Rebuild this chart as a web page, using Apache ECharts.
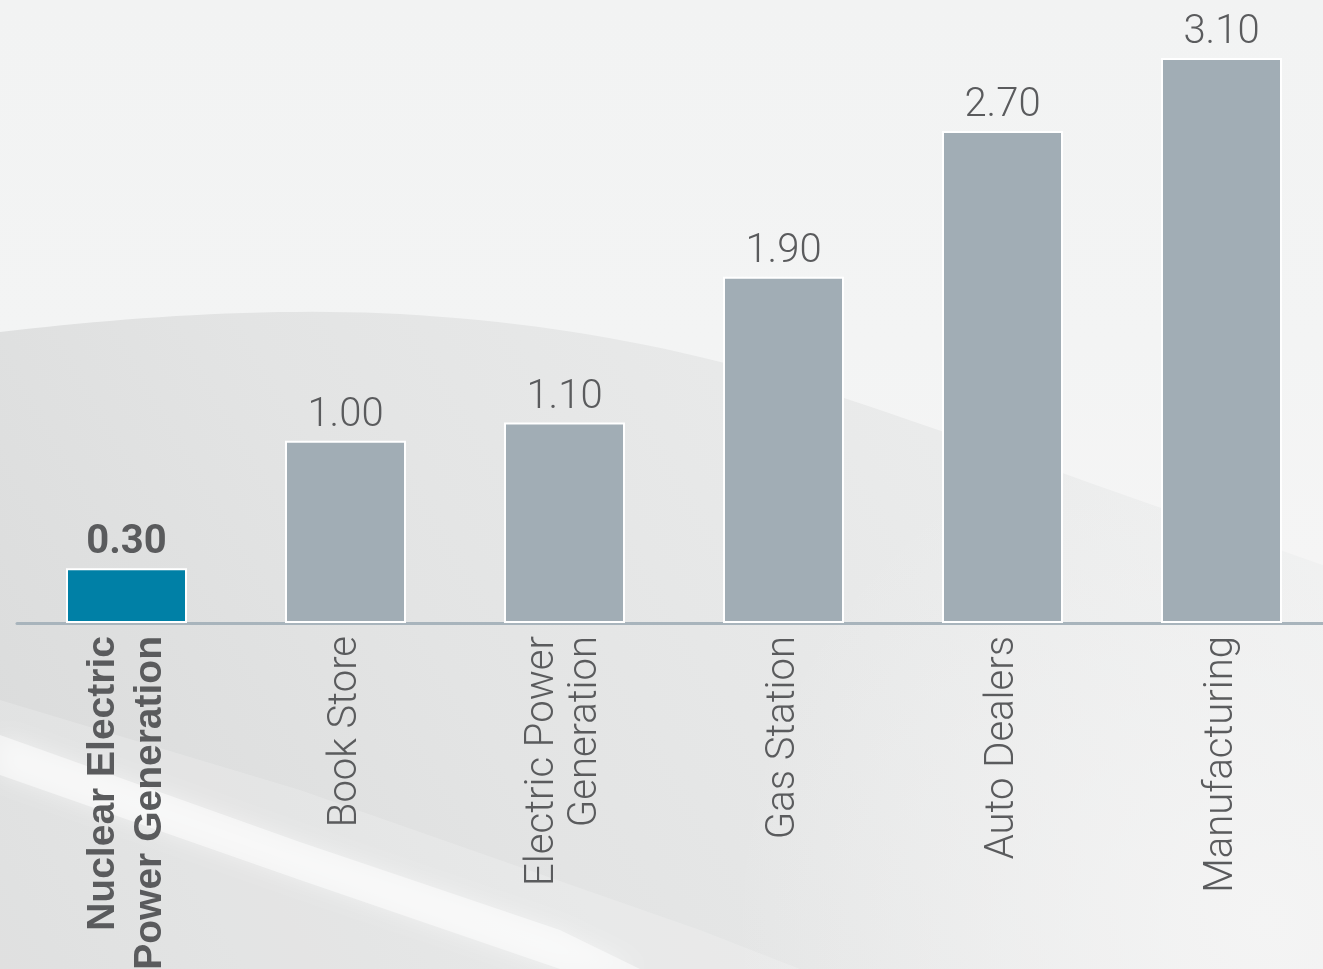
<!DOCTYPE html>
<html>
<head>
<meta charset="utf-8">
<title>Industry comparison</title>
<script src="https://cdn.jsdelivr.net/npm/echarts@6/dist/echarts.min.js"></script>
<style>
  html, body { margin: 0; padding: 0; background: #eceded; overflow: hidden; width: 1323px; height: 969px; }
  #frame { position: relative; width: 1323px; height: 969px; overflow: hidden; }
  #chart { position: absolute; left: 0; top: 0; width: 1331px; height: 969px; }
</style>
</head>
<body>
<div id="frame"><div id="chart"></div></div>
<script>
// Categories, left to right
const categories = [
  'Nuclear Electric\nPower Generation',
  'Book Store',
  'Electric Power\nGeneration',
  'Gas Station',
  'Auto Dealers',
  'Manufacturing'
];
// Value for each category
const values = [0.30, 1.00, 1.10, 1.90, 2.70, 3.10];
// Index of the highlighted category
const highlightIndex = 0;

const GREY_BAR = '#a1adb5';
const TEAL_BAR = '#0080a6';
const TEXT = '#5a5b5d';
const FONT = 'Roboto, "Liberation Sans", sans-serif';

const chart = echarts.init(document.getElementById('chart'), null, { renderer: 'canvas' });

const axisData = categories.map((c, i) => i === highlightIndex
  ? { value: c, textStyle: { fontWeight: 'bold', fontFamily: '"Liberation Sans", Arial, sans-serif', fontSize: 39, lineHeight: 47 } }
  : c);

const seriesData = values.map((v, i) => ({
  value: v,
  itemStyle: { color: i === highlightIndex ? TEAL_BAR : GREY_BAR },
  label: i === highlightIndex ? { fontWeight: 'bold' } : {}
}));

// Sample a chain of cubic curves into polygon points
function curvePoints(start, segments, steps) {
  const pts = [start];
  let p0 = start;
  segments.forEach(([c1, c2, p3]) => {
    for (let k = 1; k <= steps; k++) {
      const t = k / steps, u = 1 - t;
      pts.push([
        u * u * u * p0[0] + 3 * u * u * t * c1[0] + 3 * u * t * t * c2[0] + t * t * t * p3[0],
        u * u * u * p0[1] + 3 * u * u * t * c1[1] + 3 * u * t * t * c2[1] + t * t * t * p3[1]
      ]);
    }
    p0 = p3;
  });
  return pts;
}

// Soft backdrop: light upper sweep, grey middle, pale streak at the bottom
const W = 1331, H = 969;
const upperEdge = curvePoints([0, 332], [
  [[120, 318], [260, 307], [400, 314]],
  [[560, 323], [700, 350], [850, 400]],
  [[1000, 450], [1180, 515], [1331, 568]]
], 24);
const upperSweep = [[0, 0], ...upperEdge, [W, 0]];

const backdrop = [
  {
    type: 'rect', z: -30, silent: true,
    shape: { x: 0, y: 0, width: W, height: H },
    style: {
      fill: new echarts.graphic.LinearGradient(0, 1, 1, 0.2, [
        { offset: 0, color: '#d9dada' },
        { offset: 0.35, color: '#e3e4e4' },
        { offset: 0.7, color: '#eaebeb' },
        { offset: 1, color: '#f1f2f2' }
      ])
    }
  },
  {
    type: 'rect', z: -29, silent: true,
    shape: { x: 0, y: 0, width: W, height: H },
    style: {
      fill: new echarts.graphic.RadialGradient(0.95, 0.95, 0.55, [
        { offset: 0, color: 'rgba(245,245,245,0.9)' },
        { offset: 1, color: 'rgba(245,245,245,0)' }
      ])
    }
  },
  {
    type: 'polygon', z: -28, silent: true,
    shape: { points: upperSweep },
    style: {
      fill: new echarts.graphic.LinearGradient(0, 0, 0, 1, [
        { offset: 0, color: '#f2f3f3' },
        { offset: 0.6, color: '#f3f4f4' },
        { offset: 1, color: '#f5f5f5' }
      ])
    }
  },
  {
    type: 'polygon', z: -27, silent: true,
    shape: { points: [[0, 700], [300, 790], [700, 930], [800, 969], [0, 969]] },
    style: {
      fill: 'rgba(255,255,255,0.18)'
    }
  },
  {
    type: 'polygon', z: -26, silent: true,
    shape: { points: [[0, 735], [300, 842], [560, 930], [640, 969], [560, 969], [300, 880], [0, 775]] },
    style: {
      fill: 'rgba(255,255,255,0.5)',
      shadowBlur: 22, shadowColor: 'rgba(255,255,255,0.95)'
    }
  }
];

chart.setOption({
  backgroundColor: 'transparent',
  animation: false,
  graphic: { elements: backdrop },
  grid: { left: 17, right: 0, top: 58, height: 565, containLabel: false, outerBoundsMode: 'none' },
  xAxis: {
    type: 'category',
    data: axisData,
    axisLine: { show: true, lineStyle: { color: '#a8b4bc', width: 3 } },
    axisTick: { show: false },
    axisLabel: {
      rotate: 90,
      interval: 0,
      margin: 13,
      color: TEXT,
      fontFamily: FONT,
      fontWeight: 300,
      fontSize: 40,
      lineHeight: 43
    }
  },
  yAxis: {
    type: 'value',
    min: 0,
    max: 3.1,
    show: false,
    splitLine: { show: false }
  },
  series: [{
    type: 'bar',
    data: seriesData,
    barWidth: 121,
    itemStyle: { borderColor: '#ffffff', borderWidth: 2 },
    label: {
      show: true,
      position: 'top',
      distance: 5,
      color: TEXT,
      fontFamily: FONT,
      fontWeight: 300,
      fontSize: 40,
      formatter: p => p.value.toFixed(2)
    }
  }]
});
</script>
</body>
</html>
